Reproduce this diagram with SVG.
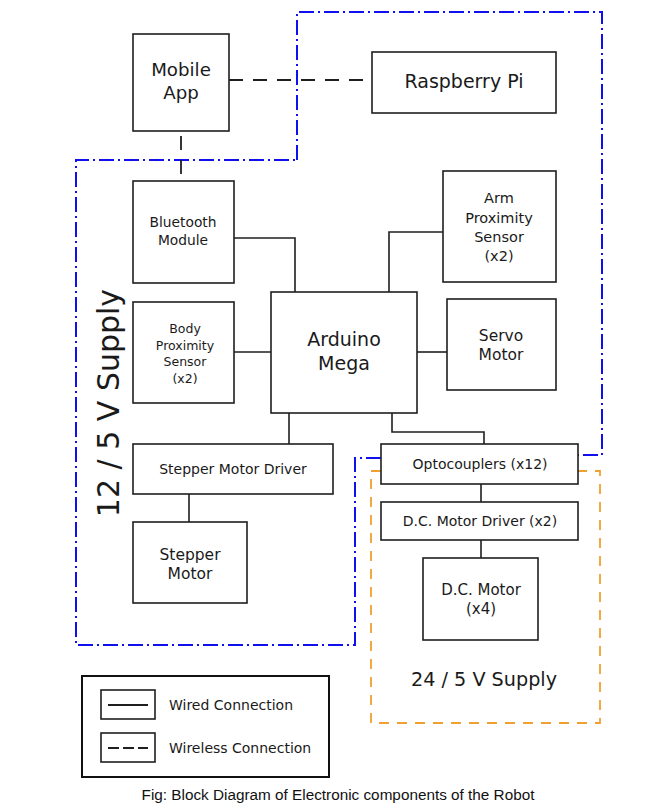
<svg xmlns="http://www.w3.org/2000/svg" width="666" height="808" viewBox="0 0 666 808">
<style>
  .box { fill: #ffffff; stroke: #1f1f1f; stroke-width: 1.6; }
  .t { font-family: "DejaVu Sans", sans-serif; fill: #1a1a1a; text-anchor: middle; }
  .wire { fill: none; stroke: #1f1f1f; stroke-width: 1.6; }
  .wless { fill: none; stroke: #1f1f1f; stroke-width: 1.8; stroke-dasharray: 14 10; }
  .blue { fill: none; stroke: #1010ee; stroke-width: 2; stroke-dasharray: 15 4 2 4; }
  .orange { fill: none; stroke: #f0a030; stroke-width: 1.8; stroke-dasharray: 10 8; }
</style>
<rect width="666" height="808" fill="#ffffff"/>

<g id="zones">
  <path class="blue" d="M297,160 L297,12 L602,12 L602,455 L578,455 M381,458 L355,458 L355,645 L76,645 L76,160 L297,160"/>
  <path class="orange" d="M381,471 L371,471 L371,723 L600,723 L600,471 L578,471"/>
  <text class="t" transform="translate(119,403) rotate(-90)" font-size="30">12 / 5 V Supply</text>
  <text class="t" x="484" y="686" font-size="19.2">24 / 5 V Supply</text>
</g>

<g id="connectors">
  <path class="wless" d="M229,80 L372,80"/>
  <path class="wless" d="M181,136 L181,181" stroke-dasharray="15 14"/>
  <path class="wire" d="M234,238 L295,238 L295,292"/>
  <path class="wire" d="M443,232 L389,232 L389,292"/>
  <path class="wire" d="M234,352 L271,352"/>
  <path class="wire" d="M417,352 L447,352"/>
  <path class="wire" d="M289,413 L289,444"/>
  <path class="wire" d="M392,413 L392,432 L484,432 L484,444"/>
  <path class="wire" d="M189,494 L189,522"/>
  <path class="wire" d="M481,484 L481,502"/>
  <path class="wire" d="M481,540 L481,558"/>
</g>

<g id="mobile-app">
  <rect class="box" x="133" y="34" width="96" height="97"/>
  <text class="t" x="181" y="76" font-size="18.2">Mobile</text>
  <text class="t" x="181" y="99" font-size="18.2">App</text>
</g>

<g id="raspberry-pi">
  <rect class="box" x="372" y="52" width="184" height="61" stroke="#555555" stroke-width="1.3"/>
  <text class="t" x="464" y="88" font-size="19">Raspberry Pi</text>
</g>

<g id="bluetooth-module">
  <rect class="box" x="133" y="181" width="101" height="102"/>
  <text class="t" x="183" y="227" font-size="13.8">Bluetooth</text>
  <text class="t" x="183" y="245" font-size="13.8">Module</text>
</g>

<g id="arm-proximity-sensor">
  <rect class="box" x="443" y="171" width="113" height="111" stroke-width="2.2"/>
  <text class="t" x="499" y="203" font-size="14.5">Arm</text>
  <text class="t" x="499" y="223" font-size="14.5">Proximity</text>
  <text class="t" x="499" y="242" font-size="14.5">Sensor</text>
  <text class="t" x="499" y="261" font-size="14.5">(x2)</text>
</g>

<g id="arduino-mega">
  <rect class="box" x="271" y="292" width="146" height="121"/>
  <text class="t" x="344" y="346" font-size="19">Arduino</text>
  <text class="t" x="344" y="370" font-size="19">Mega</text>
</g>

<g id="body-proximity-sensor">
  <rect class="box" x="133" y="302" width="101" height="101"/>
  <text class="t" x="185" y="333" font-size="12.5">Body</text>
  <text class="t" x="185" y="350" font-size="12.5">Proximity</text>
  <text class="t" x="185" y="366" font-size="12.5">Sensor</text>
  <text class="t" x="185" y="383" font-size="12.5">(x2)</text>
</g>

<g id="servo-motor">
  <rect class="box" x="447" y="299" width="109" height="91"/>
  <text class="t" x="501" y="341" font-size="15.5">Servo</text>
  <text class="t" x="501" y="360" font-size="15.5">Motor</text>
</g>

<g id="stepper-motor-driver">
  <rect class="box" x="133" y="444" width="200" height="50"/>
  <text class="t" x="233" y="474" font-size="14">Stepper Motor Driver</text>
</g>

<g id="stepper-motor">
  <rect class="box" x="133" y="522" width="114" height="81"/>
  <text class="t" x="190" y="560" font-size="15.5">Stepper</text>
  <text class="t" x="190" y="579" font-size="15.5">Motor</text>
</g>

<g id="optocouplers">
  <rect class="box" x="381" y="444" width="197" height="40"/>
  <text class="t" x="480" y="469" font-size="14">Optocouplers (x12)</text>
</g>

<g id="dc-motor-driver">
  <rect class="box" x="381" y="502" width="197" height="38"/>
  <text class="t" x="480" y="526" font-size="14">D.C. Motor Driver (x2)</text>
</g>

<g id="dc-motor">
  <rect class="box" x="423" y="558" width="115" height="82"/>
  <text class="t" x="481" y="595" font-size="15">D.C. Motor</text>
  <text class="t" x="481" y="614" font-size="15">(x4)</text>
</g>

<g id="legend">
  <rect x="82" y="676" width="247" height="101" fill="#ffffff" stroke="#111111" stroke-width="2"/>
  <rect x="101" y="690" width="54" height="29" fill="none" stroke="#1f1f1f" stroke-width="1.6"/>
  <line x1="108" y1="705" x2="148" y2="705" stroke="#1f1f1f" stroke-width="1.8"/>
  <rect x="101" y="733" width="54" height="29" fill="none" stroke="#1f1f1f" stroke-width="1.6"/>
  <line x1="108" y1="748" x2="148" y2="748" stroke="#1f1f1f" stroke-width="1.8" stroke-dasharray="11 4"/>
  <text class="t" x="169" y="710" font-size="14" style="text-anchor:start">Wired Connection</text>
  <text class="t" x="169" y="753" font-size="14" style="text-anchor:start">Wireless Connection</text>
</g>

<text x="338" y="800" font-family="Liberation Sans, Arial, sans-serif" font-size="15.3" fill="#111111" text-anchor="middle">Fig: Block Diagram of Electronic components of the Robot</text>
</svg>
